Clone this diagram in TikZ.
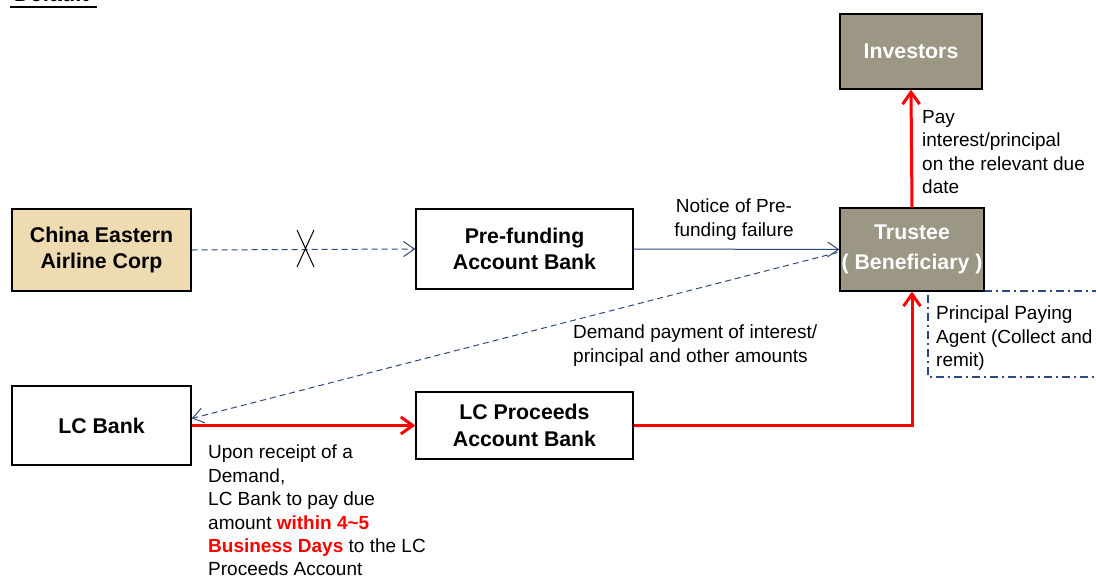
\documentclass[tikz,border=0pt]{standalone}
\usepackage{fontspec}
\setmainfont{Liberation Sans}
\usetikzlibrary{arrows.meta}
\definecolor{navy}{HTML}{2F4A7A}
\definecolor{tanbox}{HTML}{EEDBB2}
\definecolor{greyb}{HTML}{9C9685}
\begin{document}
\begin{tikzpicture}[x=1pt,y=-1pt,
 box/.style={draw=black,line width=1.2pt,inner sep=0pt,align=center,font=\bfseries\fontsize{21.3}{26.5}\selectfont},
 gbox/.style={box,fill=greyb,text=white},
 lbl/.style={inner sep=0pt,align=left,anchor=north west,font=\fontsize{19}{23.4}\selectfont},
 navyline/.style={draw=navy,line width=1pt,-{Straight Barb[length=11pt,width=15pt]}},
 navydash/.style={navyline,dash pattern=on 6pt off 4pt},
 redline/.style={draw=red,line width=3pt,-{Straight Barb[length=12pt,width=17pt]}}]
\useasboundingbox (0,0) rectangle (1096,576);
% title
\node[font=\bfseries\fontsize{22}{26}\selectfont,anchor=base west,inner sep=0pt] (title) at (14,1) {Default};
\draw[line width=2pt] (10,6.5) -- (97,6.5);
% dash-dot agent box
\draw[navy,line width=1.5pt,dash pattern=on 8pt off 4pt on 2pt off 4pt] (1100,291) -- (985,291);
\draw[navy,line width=1.5pt,dash pattern=on 8pt off 4pt on 2pt off 4pt] (928,295) -- (928,377) -- (1100,377);
% boxes
\node[box,fill=tanbox,minimum width=179pt,minimum height=82pt] (china) at (101.5,250) {China Eastern\\Airline Corp};
\node[box,fill=white,minimum width=217pt,minimum height=80pt] (pre) at (524.5,249) {Pre-funding\\Account Bank};
\node[gbox,minimum width=142pt,minimum height=75pt] (inv) at (911,51.5) {Investors};
\node[gbox,minimum width=144pt,minimum height=83pt] (trustee) at (912,249.5) {Trustee\\[4pt]( Beneficiary )};
\node[box,fill=white,minimum width=179pt,minimum height=79pt] (lcbank) at (101.5,425.5) {LC Bank};
\node[box,fill=white,minimum width=217pt,minimum height=67pt] (lcp) at (524.5,425.5) {LC Proceeds\\Account Bank};
% connectors
\draw[navydash] (china.east) -- (pre.west);
\draw[line width=1pt] (297,230) -- (314,267) (314,230) -- (297,267);
\draw[navyline] (pre.east) -- (trustee.west);
\draw[navydash] ([xshift=-2pt,yshift=-3pt]trustee.west) -- ([yshift=7pt]lcbank.east);
\draw[redline] (lcbank.east) -- (lcp.west);
\draw[redline] (lcp.east) -- (trustee.south |- lcp.east) -- (trustee.south);
\draw[redline] (trustee.north) -- (inv.south);
% labels
\node[lbl,align=center,anchor=north] (notice) at (734,199) {Notice of Pre-\\funding failure};
\node[lbl] (pay) at (922,110) {Pay\\interest/principal\\on the relevant due\\date};
\node[lbl] (ppa) at (936,306) {Principal Paying\\Agent (Collect and\\remit)};
\node[lbl] (demand) at (573,325) {Demand payment of interest/\\principal and other amounts};
\node[lbl] (upon) at (208,445) {Upon receipt of a\\Demand,\\LC Bank to pay due\\amount {\color{red}\bfseries within 4\textasciitilde 5}\\{\color{red}\bfseries Business Days} to the LC\\Proceeds Account};
\end{tikzpicture}
\end{document}
